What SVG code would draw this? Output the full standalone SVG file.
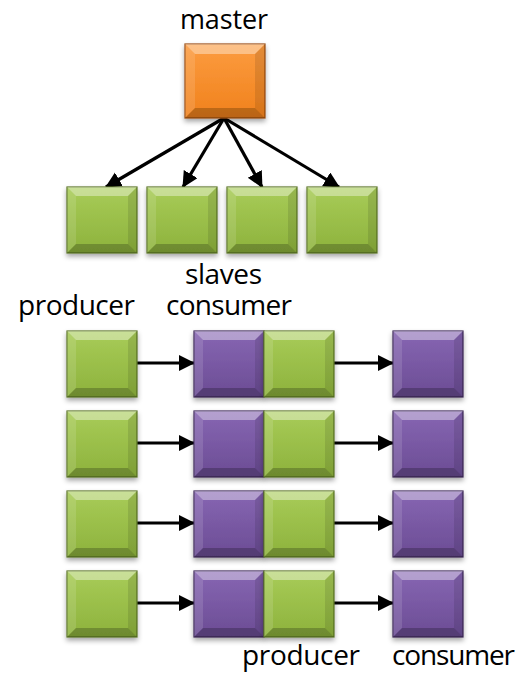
<svg xmlns="http://www.w3.org/2000/svg" xmlns:xlink="http://www.w3.org/1999/xlink" width="521" height="673" viewBox="0 0 521 673">
<style>
text{font-family:"Open Sans","Noto Sans","DejaVu Sans",sans-serif;font-size:28px;fill:#000}
.green{fill:url(#gGreen);stroke:#5B7524;stroke-width:1.2}
.purple{fill:url(#gPurple);stroke:#3D2A58;stroke-width:1.2}
.orange{fill:url(#gOrange);stroke:#9A4C0C;stroke-width:1.2}
.node{filter:url(#shadow)}
.hi{fill:#fff;opacity:.38}
.hs{fill:#fff;opacity:.12}
.ds{fill:#000;opacity:.1}
.dk{fill:#000;opacity:.22}
.conn line{stroke:#000;stroke-width:3.2}
</style>
<defs>
<linearGradient id="gGreen" x1="0" y1="0" x2="0" y2="1"><stop offset="0" stop-color="#A8CC58"/><stop offset="1" stop-color="#8DB23C"/></linearGradient>
<linearGradient id="gPurple" x1="0" y1="0" x2="0" y2="1"><stop offset="0" stop-color="#8766B3"/><stop offset="1" stop-color="#6B4C94"/></linearGradient>
<linearGradient id="gOrange" x1="0" y1="0" x2="0" y2="1"><stop offset="0" stop-color="#FC9C40"/><stop offset="1" stop-color="#F0811C"/></linearGradient>
<filter id="shadow" x="-20%" y="-20%" width="140%" height="150%"><feDropShadow dx="0" dy="3" stdDeviation="2.5" flood-color="#000" flood-opacity="0.35"/></filter>
<g id="bev70">
<polygon class="hi" points="0,0 70,0 61,9 9,9"/>
<polygon class="hs" points="0,0 9,9 9,57 0,66"/>
<polygon class="ds" points="70,0 70,66 61,57 61,9"/>
<polygon class="dk" points="0,66 70,66 61,57 9,57"/>
</g>
<g id="bev80">
<polygon class="hi" points="0,0 80,0 70,10 10,10"/>
<polygon class="hs" points="0,0 10,10 10,64 0,74"/>
<polygon class="ds" points="80,0 80,74 70,64 70,10"/>
<polygon class="dk" points="0,74 80,74 70,64 10,64"/>
</g>
<marker id="arrow" markerUnits="userSpaceOnUse" markerWidth="17" markerHeight="17" refX="15" refY="8" orient="auto"><path d="M0,0 L16,8 L0,16 z" fill="#000"/></marker>
</defs>

<g id="connectors" class="conn">
<line x1="224" y1="118" x2="106" y2="187" marker-end="url(#arrow)"/>
<line x1="224" y1="118" x2="183" y2="187" marker-end="url(#arrow)"/>
<line x1="224" y1="118" x2="262" y2="187" marker-end="url(#arrow)"/>
<line x1="224" y1="118" x2="339" y2="187" marker-end="url(#arrow)"/>
<line x1="137" y1="363" x2="194" y2="363" marker-end="url(#arrow)"/>
<line x1="334" y1="363" x2="393" y2="363" marker-end="url(#arrow)"/>
<line x1="137" y1="443" x2="194" y2="443" marker-end="url(#arrow)"/>
<line x1="334" y1="443" x2="393" y2="443" marker-end="url(#arrow)"/>
<line x1="137" y1="523" x2="194" y2="523" marker-end="url(#arrow)"/>
<line x1="334" y1="523" x2="393" y2="523" marker-end="url(#arrow)"/>
<line x1="137" y1="603" x2="194" y2="603" marker-end="url(#arrow)"/>
<line x1="334" y1="603" x2="393" y2="603" marker-end="url(#arrow)"/>
</g>

<g id="master" class="node" transform="translate(185,44)"><rect class="orange" width="80" height="74"/><use xlink:href="#bev80"/></g>

<g id="slave1" class="node" transform="translate(67,187)"><rect class="green" width="70" height="66"/><use xlink:href="#bev70"/></g>
<g id="slave2" class="node" transform="translate(147,187)"><rect class="green" width="70" height="66"/><use xlink:href="#bev70"/></g>
<g id="slave3" class="node" transform="translate(227,187)"><rect class="green" width="70" height="66"/><use xlink:href="#bev70"/></g>
<g id="slave4" class="node" transform="translate(307,187)"><rect class="green" width="70" height="66"/><use xlink:href="#bev70"/></g>

<g id="r1-producer" class="node" transform="translate(67,331)"><rect class="green" width="70" height="66"/><use xlink:href="#bev70"/></g>
<g id="r1-consumer" class="node" transform="translate(194,331)"><rect class="purple" width="70" height="66"/><use xlink:href="#bev70"/></g>
<g id="r1-producer2" class="node" transform="translate(264,331)"><rect class="green" width="70" height="66"/><use xlink:href="#bev70"/></g>
<g id="r1-consumer2" class="node" transform="translate(393,331)"><rect class="purple" width="70" height="66"/><use xlink:href="#bev70"/></g>

<g id="r2-producer" class="node" transform="translate(67,411)"><rect class="green" width="70" height="66"/><use xlink:href="#bev70"/></g>
<g id="r2-consumer" class="node" transform="translate(194,411)"><rect class="purple" width="70" height="66"/><use xlink:href="#bev70"/></g>
<g id="r2-producer2" class="node" transform="translate(264,411)"><rect class="green" width="70" height="66"/><use xlink:href="#bev70"/></g>
<g id="r2-consumer2" class="node" transform="translate(393,411)"><rect class="purple" width="70" height="66"/><use xlink:href="#bev70"/></g>

<g id="r3-producer" class="node" transform="translate(67,491)"><rect class="green" width="70" height="66"/><use xlink:href="#bev70"/></g>
<g id="r3-consumer" class="node" transform="translate(194,491)"><rect class="purple" width="70" height="66"/><use xlink:href="#bev70"/></g>
<g id="r3-producer2" class="node" transform="translate(264,491)"><rect class="green" width="70" height="66"/><use xlink:href="#bev70"/></g>
<g id="r3-consumer2" class="node" transform="translate(393,491)"><rect class="purple" width="70" height="66"/><use xlink:href="#bev70"/></g>

<g id="r4-producer" class="node" transform="translate(67,571)"><rect class="green" width="70" height="66"/><use xlink:href="#bev70"/></g>
<g id="r4-consumer" class="node" transform="translate(194,571)"><rect class="purple" width="70" height="66"/><use xlink:href="#bev70"/></g>
<g id="r4-producer2" class="node" transform="translate(264,571)"><rect class="green" width="70" height="66"/><use xlink:href="#bev70"/></g>
<g id="r4-consumer2" class="node" transform="translate(393,571)"><rect class="purple" width="70" height="66"/><use xlink:href="#bev70"/></g>

<g id="labels">
<text x="180" y="29" textLength="88" style="font-size:27px">master</text>
<text x="185" y="284" textLength="77">slaves</text>
<text x="18" y="315" textLength="117">producer</text>
<text x="166" y="315" textLength="126">consumer</text>
<text x="242" y="665" textLength="118">producer</text>
<text x="392" y="665" textLength="123">consumer</text>
</g>
</svg>
